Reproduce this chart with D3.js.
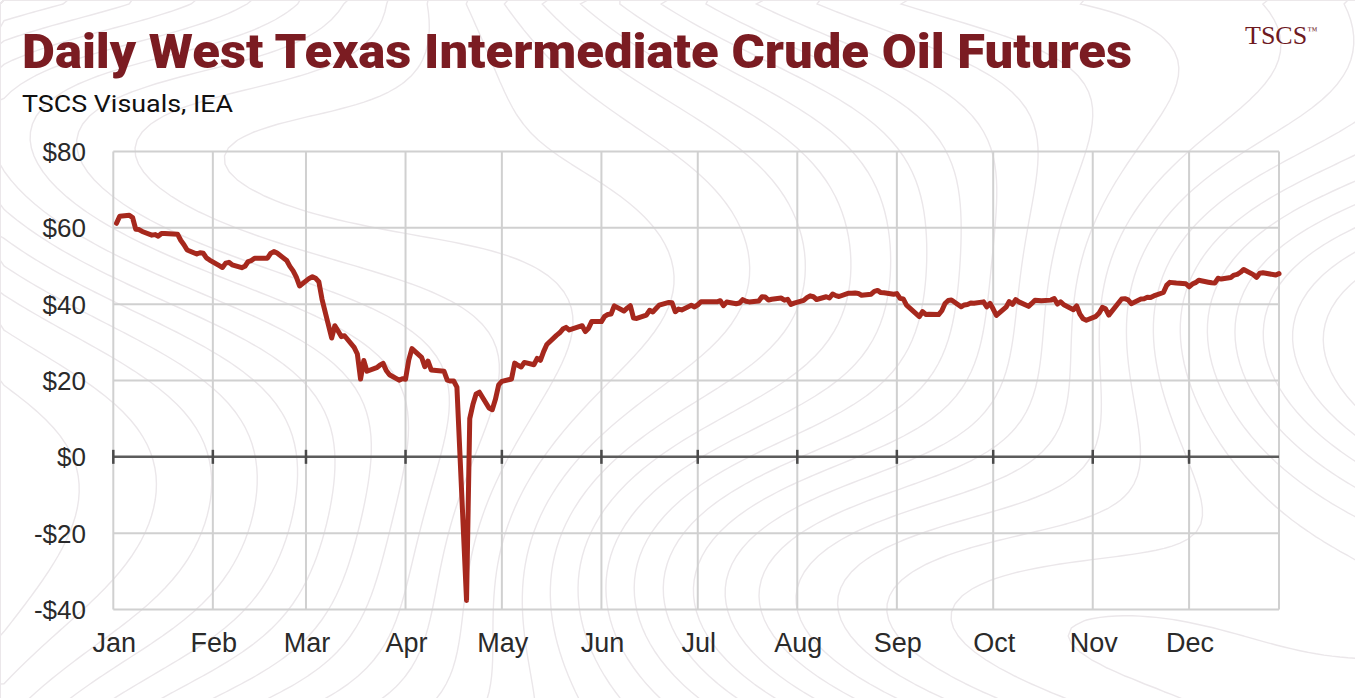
<!DOCTYPE html>
<html>
<head>
<meta charset="utf-8">
<script src="https://cdn.jsdelivr.net/npm/d3@7"></script>
<style>
  body { margin: 0; background: #fff; }
  svg { display: block; }
</style>
</head>
<body>
<div id="chart"></div>
<script>
// WTI daily close, 2020
var monthLabels = ["Jan","Feb","Mar","Apr","May","Jun","Jul","Aug","Sep","Oct","Nov","Dec"];
var yTicks = [-40, -20, 0, 20, 40, 60, 80];

var tradeDays = [
	"01-02","01-03","01-06","01-07","01-08","01-09","01-10","01-13","01-14","01-15","01-16","01-17","01-21","01-22","01-23","01-24","01-27","01-28","01-29","01-30","01-31",
	"02-03","02-04","02-05","02-06","02-07","02-10","02-11","02-12","02-13","02-14","02-18","02-19","02-20","02-21","02-24","02-25","02-26","02-27","02-28",
	"03-02","03-03","03-04","03-05","03-06","03-09","03-10","03-11","03-12","03-13","03-16","03-17","03-18","03-19","03-20","03-23","03-24","03-25","03-26","03-27","03-30","03-31",
	"04-01","04-02","04-03","04-06","04-07","04-08","04-09","04-13","04-14","04-15","04-16","04-17","04-20","04-21","04-22","04-23","04-24","04-27","04-28","04-29","04-30",
	"05-01","05-04","05-05","05-06","05-07","05-08","05-11","05-12","05-13","05-14","05-15","05-18","05-19","05-20","05-21","05-22","05-26","05-27","05-28","05-29",
	"06-01","06-02","06-03","06-04","06-05","06-08","06-09","06-10","06-11","06-12","06-15","06-16","06-17","06-18","06-19","06-22","06-23","06-24","06-25","06-26","06-29","06-30",
	"07-01","07-02","07-06","07-07","07-08","07-09","07-10","07-13","07-14","07-15","07-16","07-17","07-20","07-21","07-22","07-23","07-24","07-27","07-28","07-29","07-30","07-31",
	"08-03","08-04","08-05","08-06","08-07","08-10","08-11","08-12","08-13","08-14","08-17","08-18","08-19","08-20","08-21","08-24","08-25","08-26","08-27","08-28","08-31",
	"09-01","09-02","09-03","09-04","09-08","09-09","09-10","09-11","09-14","09-15","09-16","09-17","09-18","09-21","09-22","09-23","09-24","09-25","09-28","09-29","09-30",
	"10-01","10-02","10-05","10-06","10-07","10-08","10-09","10-12","10-13","10-14","10-15","10-16","10-19","10-20","10-21","10-22","10-23","10-26","10-27","10-28","10-29","10-30",
	"11-02","11-03","11-04","11-05","11-06","11-09","11-10","11-11","11-12","11-13","11-16","11-17","11-18","11-19","11-20","11-23","11-24","11-25","11-27","11-30",
	"12-01","12-02","12-03","12-04","12-07","12-08","12-09","12-10","12-11","12-14","12-15","12-16","12-17","12-18","12-21","12-22","12-23","12-24","12-28","12-29"
];

var wtiClose = [
	61.18,63.05,63.27,62.70,59.61,59.56,59.04,58.08,58.23,57.81,58.52,58.54,58.34,56.74,55.59,54.19,53.14,53.48,53.33,52.14,51.56,
	50.11,49.61,50.75,50.95,50.32,49.57,49.94,51.17,51.42,52.05,52.05,53.29,53.78,53.38,51.43,49.90,48.73,47.09,44.76,
	46.75,47.18,46.78,45.90,41.28,31.13,34.36,32.98,31.50,31.73,28.70,26.95,20.37,25.22,22.43,23.36,24.01,24.49,22.60,21.51,20.09,20.48,
	20.31,25.32,28.34,26.08,23.63,25.09,22.76,22.41,20.11,19.87,19.87,18.27,-37.63,10.01,13.78,16.50,16.94,12.78,12.34,15.06,18.84,
	19.78,20.39,24.56,23.99,23.55,24.74,24.14,25.78,25.29,27.56,29.43,31.82,32.50,33.49,33.92,33.25,34.35,32.81,33.71,35.49,
	35.44,36.81,37.29,37.41,39.55,38.19,38.94,39.60,36.34,36.26,37.12,38.38,37.96,38.84,39.75,40.46,40.37,38.01,38.72,38.49,39.70,39.27,
	39.82,40.65,40.63,40.62,40.90,39.62,40.55,40.10,40.29,41.20,40.75,40.59,40.81,41.96,41.90,41.07,41.29,41.60,41.04,41.27,39.92,40.27,
	41.01,41.70,42.19,41.95,41.22,41.94,41.61,42.67,42.24,42.01,42.89,42.89,42.93,42.82,42.34,42.62,43.35,43.60,43.04,42.97,42.61,
	42.76,41.51,41.37,39.77,36.76,38.05,37.30,37.33,37.26,38.28,40.16,40.97,41.11,39.31,39.80,39.93,40.31,40.25,40.60,39.29,40.22,
	38.72,37.05,39.22,40.67,39.95,41.19,40.60,39.43,40.20,41.04,40.96,40.88,41.06,41.46,40.03,40.64,39.85,38.56,39.57,37.39,36.17,35.79,
	36.81,37.66,39.15,38.79,37.14,40.29,41.36,41.45,41.12,40.13,41.34,41.43,41.82,41.74,42.15,43.06,44.91,45.71,45.53,45.34,
	44.55,45.28,45.64,46.26,45.76,45.60,45.52,46.78,46.57,46.99,47.62,47.82,48.36,49.10,47.74,47.02,48.12,48.23,47.62,48.00
];

var width = 1355,
    height = 698,
    plot = {left: 113.3, right: 1279, top: 151.5, bottom: 609.5};

var parseDay = d3.utcParse("%Y-%m-%d");
var series = tradeDays.map(function(d, i) {
	return {date: parseDay("2020-" + d), value: wtiClose[i]};
});

var svg = d3.select("#chart").append("svg")
	.attr("width", width)
	.attr("height", height)
	.attr("viewBox", "0 0 " + width + " " + height);

svg.append("rect").attr("width", width).attr("height", height).attr("fill", "#fff");

// faint topo lines in the background
var cell = 8, nx = Math.ceil(width / cell) + 1, ny = Math.ceil(height / cell) + 1;
var field = new Array(nx * ny);
for (var j = 0; j < ny; j++) {
	for (var i = 0; i < nx; i++) {
		var px = i * cell, py = j * cell;
		field[j * nx + i] = px / 90
			+ 1.6 * Math.sin(py / 120 + px / 300)
			+ 1.0 * Math.cos(px / 170 - py / 90 + 1.3)
			+ 0.5 * Math.sin(py / 60 - px / 320);
	}
}
var contours = d3.contours().size([nx, ny]).thresholds(d3.range(-4, 20, 0.6))(field);
svg.append("g")
	.attr("fill", "none")
	.attr("stroke", "#ebe7ea")
	.attr("stroke-width", 1.4)
	.selectAll("path")
	.data(contours)
	.enter().append("path")
	.attr("d", d3.geoPath(d3.geoIdentity().scale(cell)));

var x = d3.scaleUtc()
	.domain([parseDay("2020-01-01"), parseDay("2020-12-29")])
	.range([plot.left, plot.right]);
var y = d3.scaleLinear()
	.domain([-40, 80])
	.range([plot.bottom, plot.top]);

var months = d3.utcMonth.range(parseDay("2020-01-01"), parseDay("2020-12-02"));

// grid
var grid = svg.append("g").attr("stroke", "#d0d0d0").attr("stroke-width", 2);
grid.selectAll(".h").data(yTicks.filter(function(v) { return v !== 0; }))
	.enter().append("line")
	.attr("x1", plot.left).attr("x2", plot.right)
	.attr("y1", function(d) { return y(d); }).attr("y2", function(d) { return y(d); });
grid.selectAll(".v").data(months.concat([x.domain()[1]]))
	.enter().append("line")
	.attr("y1", plot.top).attr("y2", plot.bottom)
	.attr("x1", function(d) { return x(d); }).attr("x2", function(d) { return x(d); });

// zero baseline with month ticks
svg.append("line")
	.attr("x1", plot.left).attr("x2", plot.right)
	.attr("y1", y(0)).attr("y2", y(0))
	.attr("stroke", "#5c5c5c").attr("stroke-width", 2.5);
svg.append("g").selectAll("line").data(months)
	.enter().append("line")
	.attr("x1", function(d) { return x(d); }).attr("x2", function(d) { return x(d); })
	.attr("y1", y(0) - 7).attr("y2", y(0) + 7)
	.attr("stroke", "#4a4a4a").attr("stroke-width", 2.5);

// labels
svg.append("g").selectAll("text").data(yTicks)
	.enter().append("text")
	.attr("x", 86)
	.attr("y", function(d) { return y(d); })
	.attr("dy", "0.36em")
	.attr("text-anchor", "end")
	.attr("font-family", "Liberation Sans, Arial, sans-serif")
	.attr("font-size", 26)
	.attr("fill", "#2a2a2a")
	.text(function(d) { return (d < 0 ? "-$" : "$") + Math.abs(d); });

svg.append("g").selectAll("text").data(months)
	.enter().append("text")
	.attr("x", function(d) { return x(d) + 1; })
	.attr("y", 652)
	.attr("text-anchor", "middle")
	.attr("font-family", "Liberation Sans, Arial, sans-serif")
	.attr("font-size", 27)
	.attr("fill", "#2a2a2a")
	.text(function(d, i) { return monthLabels[i]; });

// price line
var line = d3.line()
	.x(function(d) { return x(d.date); })
	.y(function(d) { return y(d.value); });

svg.append("path")
	.datum(series)
	.attr("d", line)
	.attr("fill", "none")
	.attr("stroke", "#a6281d")
	.attr("stroke-width", 5)
	.attr("stroke-linejoin", "round")
	.attr("stroke-linecap", "round");

// titles
svg.append("text")
	.attr("x", 22).attr("y", 68)
	.attr("font-family", "Roboto, sans-serif")
	.attr("font-weight", 900)
	.attr("font-size", 49)
	.attr("textLength", 1110)
	.attr("lengthAdjust", "spacingAndGlyphs")
	.attr("fill", "#7b1c22")
	.text("Daily West Texas Intermediate Crude Oil Futures");

svg.append("text")
	.attr("x", 22).attr("y", 112)
	.attr("font-family", "Roboto, sans-serif")
	.attr("font-size", 24)
	.attr("textLength", 211)
	.attr("lengthAdjust", "spacingAndGlyphs")
	.attr("fill", "#111")
	.text("TSCS Visuals, IEA");

var logo = svg.append("text")
	.attr("x", 1245).attr("y", 44)
	.attr("font-family", "Liberation Serif, Times New Roman, serif")
	.attr("font-size", 26)
	.attr("fill", "#6e1a1f")
	.text("TSCS");
logo.append("tspan")
	.attr("font-size", 10)
	.attr("dy", -10)
	.text("™");
</script>
</body>
</html>
